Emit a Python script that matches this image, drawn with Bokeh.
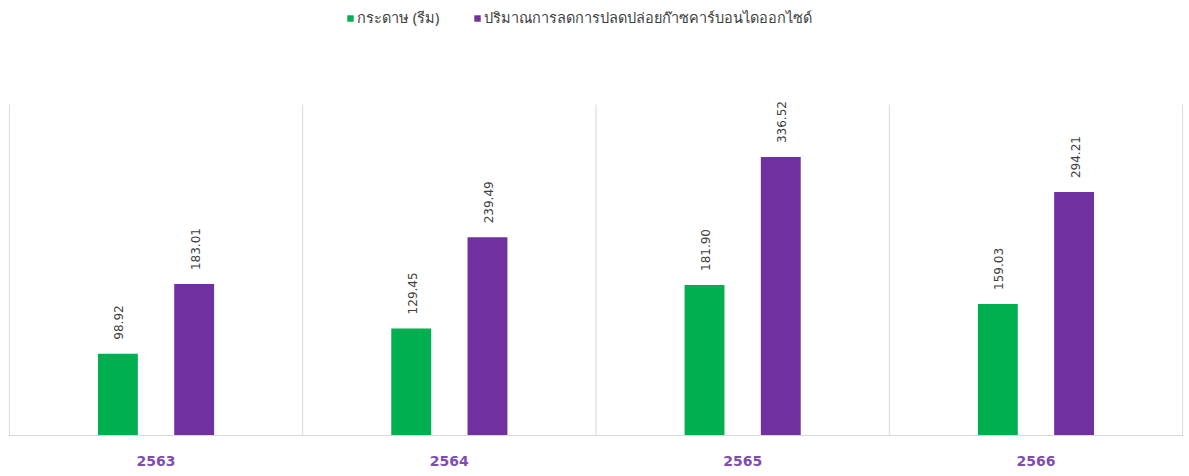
import math
from bokeh.plotting import figure
from bokeh.models import (ColumnDataSource, Range1d, FixedTicker, LabelSet,
                          Legend, LegendItem)
from bokeh.core.properties import value
from bokeh.transform import dodge
from bokeh.embed import file_html
from bokeh.resources import INLINE

years = ["2563", "2564", "2565", "2566"]
paper = [98.92, 129.45, 181.90, 159.03]
co2 = [183.01, 239.49, 336.52, 294.21]
series_names = ["กระดาษ (รีม)", "ปริมาณการลดการปลดปล่อยก๊าซคาร์บอนไดออกไซด์"]
colors = ["#00B050", "#7030A0"]
y_max = 400

n = len(years)
xi = [i + 0.5 for i in range(n)]
src = ColumnDataSource(dict(
    xi=xi, paper=paper, co2=co2,
    paper_lbl=[f"{v:.2f}" for v in paper],
    co2_lbl=[f"{v:.2f}" for v in co2],
))

W, H = 1186, 470
B_LEFT, B_RIGHT, B_BOTTOM = 8, 3, 35
frame_h = H - B_BOTTOM
plot_top_px = 104  # where y_max sits, in px from the top of the canvas
y_end = y_max * frame_h / (frame_h - plot_top_px)

p = figure(width=W, height=H, output_backend="svg", toolbar_location=None,
           x_range=Range1d(-0.003, n + 0.003), y_range=Range1d(0, y_end),
           min_border_left=B_LEFT, min_border_right=B_RIGHT, min_border_top=0,
           min_border_bottom=B_BOTTOM)
p.outline_line_color = None
p.background_fill_color = "white"
p.border_fill_color = "white"
p.grid.grid_line_color = None

# vertical separators between the categories (and at both ends)
bounds = list(range(n + 1))
p.segment(x0=bounds, x1=bounds, y0=[0] * len(bounds), y1=[y_max] * len(bounds),
          line_color="#d9d9d9", line_width=1)

off = 0.13
w = 0.136
r1 = p.vbar(x=dodge("xi", -off, range=p.x_range), top="paper", width=w,
            source=src, fill_color=colors[0], line_color=None)
r2 = p.vbar(x=dodge("xi", off, range=p.x_range), top="co2", width=w,
            source=src, fill_color=colors[1], line_color=None)

for col, lbl, o in (("paper", "paper_lbl", -off), ("co2", "co2_lbl", off)):
    ls = LabelSet(x=dodge("xi", o, range=p.x_range), y=col, text=lbl,
                  source=src, angle=math.pi / 2, text_align="left",
                  text_baseline="middle", y_offset=14, x_offset=1,
                  text_font=value("DejaVu Sans"), text_font_size="12px",
                  text_color="#404040")
    p.add_layout(ls)

p.yaxis.visible = False

p.xaxis.ticker = FixedTicker(ticks=xi)
p.xaxis.major_label_overrides = {x: y for x, y in zip(xi, years)}
p.xaxis.axis_line_color = "#d9d9d9"
p.xaxis.major_tick_line_color = None
p.xaxis.minor_tick_line_color = None
p.xaxis.major_label_text_color = "#7f4cb3"
p.xaxis.major_label_text_font = "DejaVu Sans"
p.xaxis.major_label_text_font_style = "bold"
p.xaxis.major_label_text_font_size = "14px"
p.xaxis.major_label_standoff = 14

legend = Legend(items=[LegendItem(label=series_names[0], renderers=[r1]),
                       LegendItem(label=series_names[1], renderers=[r2])],
                orientation="horizontal", location=(338, frame_h - 29),
                glyph_width=8, glyph_height=8, label_standoff=3, spacing=34,
                label_text_font="Noto Sans", label_text_font_size="14.5px",
                label_text_color="#404040", border_line_color=None,
                background_fill_alpha=0, padding=2, margin=0)
p.add_layout(legend, "center")

open("out.html", "w").write(file_html(p, INLINE))
